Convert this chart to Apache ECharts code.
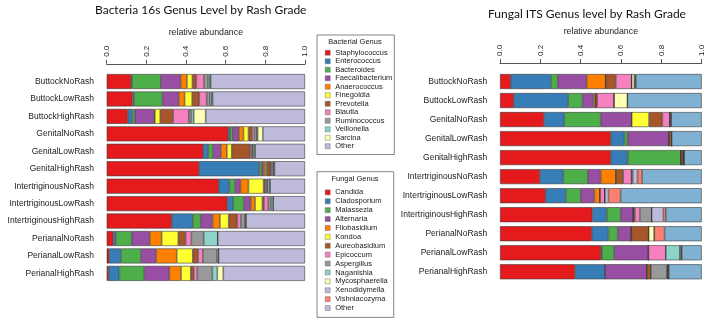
<!DOCTYPE html>
<html>
<head>
<meta charset="utf-8">
<script src="https://cdn.jsdelivr.net/npm/echarts@6/dist/echarts.min.js"></script>
<style>
  html, body { margin: 0; padding: 0; background: #fff; }
  #chart { width: 709px; height: 323px; }
</style>
</head>
<body>
<div id="chart"></div>
<script>
// --- samples (rows, top to bottom) ---
const bacteriaSamples = ['ButtockNoRash', 'ButtockLowRash', 'ButtockHighRash', 'GenitalNoRash', 'GenitalLowRash', 'GenitalHighRash',
  'IntertriginousNoRash', 'IntertriginousLowRash', 'IntertriginousHighRash', 'PerianalNoRash', 'PerianalLowRash', 'PerianalHighRash'];
const fungalSamples = ['ButtockNoRash', 'ButtockLowRash', 'GenitalNoRash', 'GenitalLowRash', 'GenitalHighRash',
  'IntertriginousNoRash', 'IntertriginousLowRash', 'IntertriginousHighRash', 'PerianalNoRash', 'PerianalLowRash', 'PerianalHighRash'];

// --- bacterial genera, relative abundance per sample ---
const bacteriaGenera = ['Staphylococcus', 'Enterococcus', 'Bacteroides', 'Faecalibacterium', 'Anaerococcus', 'Finegoldia',
  'Prevotella', 'Blautia', 'Ruminococcus', 'Veillonella', 'Sarcina', 'Other'];
const staphylococcus   = [0.123, 0.130, 0.106, 0.613, 0.487, 0.466, 0.565, 0.608, 0.328, 0.034, 0.013, 0.010];
const enterococcus     = [0.005, 0.008, 0.022, 0.010, 0.025, 0.303, 0.054, 0.030, 0.106, 0.013, 0.059, 0.054];
const bacteroides      = [0.145, 0.143, 0.013, 0.013, 0.024, 0.012, 0.029, 0.054, 0.040, 0.079, 0.101, 0.126];
const faecalibacterium = [0.100, 0.082, 0.098, 0.030, 0.040, 0.008, 0.027, 0.034, 0.060, 0.091, 0.076, 0.126];
const anaerococcus     = [0.032, 0.030, 0.004, 0.024, 0.030, 0.010, 0.040, 0.022, 0.037, 0.060, 0.104, 0.059];
const finegoldia       = [0.027, 0.038, 0.027, 0.025, 0.025, 0.008, 0.076, 0.037, 0.044, 0.084, 0.081, 0.049];
const prevotella       = [0.020, 0.036, 0.065, 0.018, 0.092, 0.018, 0.008, 0.008, 0.044, 0.037, 0.027, 0.015];
const blautia          = [0.039, 0.037, 0.079, 0.012, 0.008, 0.004, 0.008, 0.022, 0.018, 0.029, 0.024, 0.018];
const ruminococcus     = [0.020, 0.016, 0.013, 0.012, 0.006, 0.010, 0.005, 0.014, 0.020, 0.062, 0.071, 0.076];
const veillonella      = [0.010, 0.010, 0.012, 0.004, 0.008, 0.005, 0.012, 0.011, 0.006, 0.071, 0.008, 0.025];
const sarcina          = [0.003, 0.004, 0.060, 0.027, 0.004, 0.002, 0.000, 0.000, 0.000, 0.000, 0.000, 0.030];
const bacteriaOther    = [0.476, 0.466, 0.501, 0.212, 0.251, 0.154, 0.176, 0.160, 0.297, 0.440, 0.436, 0.412];

// --- fungal genera, relative abundance per sample ---
const fungalGenera = ['Candida', 'Cladosporium', 'Malassezia', 'Alternaria', 'Filobasidium', 'Kondoa', 'Aureobasidium',
  'Epicoccum', 'Aspergillus', 'Naganishia', 'Mycosphaerella', 'Xenodidymella', 'Vishniacozyma', 'Other'];
const candida        = [0.053, 0.069, 0.218, 0.549, 0.549, 0.198, 0.226, 0.458, 0.455, 0.501, 0.372];
const cladosporium   = [0.200, 0.269, 0.101, 0.068, 0.084, 0.116, 0.101, 0.071, 0.083, 0.005, 0.149];
const malassezia     = [0.033, 0.071, 0.180, 0.016, 0.264, 0.121, 0.073, 0.069, 0.045, 0.060, 0.000];
const alternaria     = [0.144, 0.055, 0.154, 0.205, 0.000, 0.064, 0.068, 0.063, 0.068, 0.170, 0.207];
const filobasidium   = [0.094, 0.010, 0.000, 0.000, 0.000, 0.076, 0.028, 0.000, 0.000, 0.000, 0.000];
const kondoa         = [0.000, 0.000, 0.086, 0.000, 0.000, 0.000, 0.000, 0.000, 0.000, 0.000, 0.000];
const aureobasidium  = [0.050, 0.008, 0.066, 0.013, 0.012, 0.036, 0.000, 0.008, 0.086, 0.000, 0.020];
const epicoccum      = [0.079, 0.084, 0.038, 0.000, 0.000, 0.041, 0.024, 0.025, 0.000, 0.086, 0.000];
const aspergillus    = [0.000, 0.000, 0.000, 0.000, 0.004, 0.000, 0.000, 0.058, 0.000, 0.000, 0.079];
const naganishia     = [0.000, 0.000, 0.000, 0.000, 0.000, 0.000, 0.000, 0.000, 0.000, 0.071, 0.005];
const mycosphaerella = [0.013, 0.066, 0.000, 0.000, 0.000, 0.006, 0.000, 0.000, 0.028, 0.000, 0.000];
const xenodidymella  = [0.004, 0.000, 0.006, 0.000, 0.000, 0.024, 0.018, 0.058, 0.000, 0.008, 0.005];
const vishniacozyma  = [0.004, 0.000, 0.000, 0.000, 0.000, 0.023, 0.060, 0.012, 0.051, 0.000, 0.000];
const fungalOther    = [0.326, 0.368, 0.151, 0.149, 0.087, 0.295, 0.402, 0.178, 0.184, 0.099, 0.163];

// --- styles ---
const bacteriaColors = ['#E41A1C', '#377EB8', '#4DAF4A', '#984EA3', '#FF7F00', '#FFFF33', '#A65628', '#F781BF', '#999999', '#8DD3C7', '#FFFFB3', '#BEBADA'];
const fungalColors = ['#E41A1C', '#377EB8', '#4DAF4A', '#984EA3', '#FF7F00', '#FFFF33', '#A65628', '#F781BF', '#999999', '#8DD3C7', '#FFFFB3', '#BEBADA', '#FB8072', '#80B1D3'];

const bacteriaData = [staphylococcus, enterococcus, bacteroides, faecalibacterium, anaerococcus, finegoldia,
  prevotella, blautia, ruminococcus, veillonella, sarcina, bacteriaOther];
const fungalData = [candida, cladosporium, malassezia, alternaria, filobasidium, kondoa, aureobasidium,
  epicoccum, aspergillus, naganishia, mycosphaerella, xenodidymella, vishniacozyma, fungalOther];

const FONT = 'Liberation Sans, Arial, sans-serif';
const TITLE_FONT = 'Lato, Open Sans, sans-serif';

function makeSeries(names, data, colors, idx) {
  return names.map((name, i) => ({
    name: name,
    type: 'bar',
    stack: 'stack' + idx,
    xAxisIndex: idx,
    yAxisIndex: idx,
    barWidth: 15,
    data: data[i],
    itemStyle: { color: colors[i], borderColor: '#3a3a3a', borderWidth: 0.6 },
    emphasis: { disabled: true },
    silent: true
  }));
}

function makeXAxis(idx) {
  return {
    gridIndex: idx,
    type: 'value',
    position: 'top',
    min: 0,
    max: 1,
    interval: 0.2,
    offset: 9,
    name: 'relative abundance',
    nameLocation: 'middle',
    nameGap: 27,
    nameTextStyle: { fontFamily: FONT, fontSize: 8.8, color: '#222' },
    axisLine: { show: true, lineStyle: { color: '#555', width: 1 } },
    axisTick: { show: true, length: 4, lineStyle: { color: '#555' } },
    axisLabel: { rotate: -90, margin: 7, fontSize: 8, color: '#222', fontFamily: FONT,
      formatter: v => v.toFixed(1) },
    splitLine: { show: false }
  };
}

function makeYAxis(idx, samples) {
  return {
    gridIndex: idx,
    type: 'category',
    data: samples,
    inverse: true,
    axisLine: { show: false },
    axisTick: { show: false },
    axisLabel: { fontSize: 8.5, margin: 12.7, color: '#222', fontFamily: FONT }
  };
}

function makeLegend(names, top, padding, lineHeight) {
  return {
    data: names,
    orient: 'vertical',
    left: 317,
    top: top,
    padding: padding,
    itemWidth: 5,
    itemHeight: 5,
    itemGap: 0,
    icon: 'rect',
    selectedMode: false,
    borderColor: '#666',
    borderWidth: 0.8,
    itemStyle: { borderWidth: 0.4, borderColor: '#555' },
    textStyle: { fontSize: 7.5, lineHeight: lineHeight, color: '#222', fontFamily: FONT }
  };
}

const chart = echarts.init(document.getElementById('chart'), null, { renderer: 'canvas' });

chart.setOption({
  animation: false,
  backgroundColor: '#fff',
  title: [
    { text: 'Bacteria 16s Genus Level by Rash Grade', left: 95, top: 4, padding: 0,
      textStyle: { fontFamily: TITLE_FONT, fontSize: 12, fontWeight: 'normal', color: '#111' } },
    { text: 'Fungal ITS Genus level by Rash Grade', left: 488, top: 8, padding: 0,
      textStyle: { fontFamily: TITLE_FONT, fontSize: 12, fontWeight: 'normal', color: '#111' } },
    { text: 'Bacterial Genus', left: 355, top: 38, textAlign: 'center', padding: 0,
      textStyle: { fontFamily: FONT, fontSize: 7.5, fontWeight: 'normal', color: '#222' } },
    { text: 'Fungal Genus', left: 355, top: 175, textAlign: 'center', padding: 0,
      textStyle: { fontFamily: FONT, fontSize: 7.5, fontWeight: 'normal', color: '#222' } }
  ],
  grid: [
    { left: 106.7, top: 72.8, width: 198.3, height: 209.3 },
    { left: 500, top: 72, width: 201.7, height: 209.3 }
  ],
  xAxis: [makeXAxis(0), makeXAxis(1)],
  yAxis: [makeYAxis(0, bacteriaSamples), makeYAxis(1, fungalSamples)],
  legend: [
    makeLegend(bacteriaGenera, 35, [13.5, 2, 4, 8], 8.5),
    makeLegend(fungalGenera, 171.7, [16.2, 6, 4.9, 8], 8.9)
  ],
  series: [].concat(
    makeSeries(bacteriaGenera, bacteriaData, bacteriaColors, 0),
    makeSeries(fungalGenera, fungalData, fungalColors, 1)
  )
});
</script>
</body>
</html>
